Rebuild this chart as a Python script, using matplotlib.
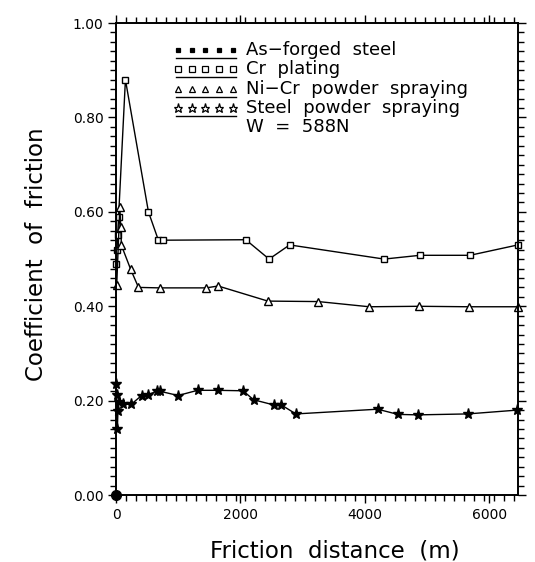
import numpy as np
import matplotlib
matplotlib.use("Agg")
import matplotlib.pyplot as plt
from matplotlib.ticker import MultipleLocator, FormatStrFormatter

# friction distance (m) / coefficient of friction
as_forged_x = [0]
as_forged_y = [0.0]

cr_x = [5, 15, 25, 40, 150, 520, 680, 760, 2085, 2460, 2790, 4310, 4885, 5690, 6460]
cr_y = [0.49, 0.52, 0.55, 0.59, 0.88, 0.60, 0.54, 0.54, 0.541, 0.50, 0.53, 0.50, 0.508, 0.508, 0.53]

nicr_x = [10, 60, 75, 86, 235, 360, 700, 1450, 1640, 2440, 3250, 4070, 4870, 5670, 6460]
nicr_y = [0.445, 0.611, 0.568, 0.529, 0.478, 0.440, 0.439, 0.439, 0.443, 0.411,
          0.410, 0.399, 0.400, 0.399, 0.399]

steel_x = [0, 10, 20, 30, 40, 107, 240, 410, 517, 653, 706, 997, 1310, 1631, 2042,
           2210, 2536, 2656, 2891, 4205, 4531, 4851, 5653, 6440]
steel_y = [0.236, 0.212, 0.140, 0.179, 0.197, 0.193, 0.192, 0.211, 0.213, 0.220, 0.220,
           0.211, 0.222, 0.222, 0.221, 0.202, 0.191, 0.191, 0.172, 0.182, 0.171, 0.170,
           0.172, 0.180]

legend_labels = ["As\u2212forged  steel", "Cr  plating", "Ni\u2212Cr  powder  spraying",
                 "Steel  powder  spraying"]
load_label = "W  =  588N"

plt.rcParams["font.family"] = ["DejaVu Sans"]

fig = plt.figure(figsize=(5.35, 5.62), dpi=100)
ax = fig.add_axes([0.217, 0.119, 0.751, 0.84])

lw = 1.0
ax.plot(as_forged_x, as_forged_y, color="black", lw=lw, marker="o", ms=7,
        mfc="black", mec="black", clip_on=False, zorder=5)
ax.plot(cr_x, cr_y, color="black", lw=lw, marker="s", ms=5,
        mfc="white", mec="black", mew=1.0, clip_on=False)
ax.plot(nicr_x, nicr_y, color="black", lw=lw, marker="^", ms=5.5,
        mfc="white", mec="black", mew=1.0, clip_on=False)
ax.plot(steel_x, steel_y, color="black", lw=lw, marker="*", ms=8,
        mfc="black", mec="black", clip_on=False)

ax.set_xlim(0, 6460)
ax.set_ylim(0, 1.0)
ax.set_xticks([0, 2000, 4000, 6000])
ax.set_yticks(np.arange(0, 1.01, 0.2))
ax.yaxis.set_major_formatter(FormatStrFormatter("%.2f"))
ax.xaxis.set_minor_locator(MultipleLocator(160))
ax.yaxis.set_minor_locator(MultipleLocator(0.02))

ax.tick_params(which="both", direction="out", top=True, right=True,
               labeltop=False, labelright=False, width=1.0, color="black")
ax.tick_params(which="major", length=6, labelsize=10, pad=3)
ax.tick_params(which="minor", length=4)
for sp in ax.spines.values():
    sp.set_linewidth(1.4)

ax.set_xlabel("Friction  distance  (m)", fontsize=16.5)
ax.set_ylabel("Coefficient  of  friction", fontsize=16.5)
ax.xaxis.set_label_coords(0.545, -0.095)
ax.yaxis.set_label_coords(-0.17, 0.51)

# legend drawn by hand: five markers over a short rule, then the text
styles = [
    dict(marker="s", ms=3.5, mfc="black", mec="black"),
    dict(marker="s", ms=4.5, mfc="white", mec="black"),
    dict(marker="^", ms=4.5, mfc="white", mec="black"),
    dict(marker="*", ms=6.5, mfc="white", mec="black"),
]
row0 = 0.943
step = 0.041
mx = np.linspace(0.155, 0.29, 5)
for i, (lab, st) in enumerate(zip(legend_labels, styles)):
    y = row0 - i * step
    ax.plot(mx, [y] * 5, ls="none", transform=ax.transAxes, mew=0.9, **st)
    ax.plot([0.148, 0.298], [y - 0.017, y - 0.017], color="black", lw=1.0,
            transform=ax.transAxes)
    ax.text(0.323, y, lab, transform=ax.transAxes, fontsize=13, va="center", ha="left")
ax.text(0.323, row0 - 4 * step, load_label, transform=ax.transAxes, fontsize=13,
        va="center", ha="left")

fig.savefig("out.png", dpi=100)
